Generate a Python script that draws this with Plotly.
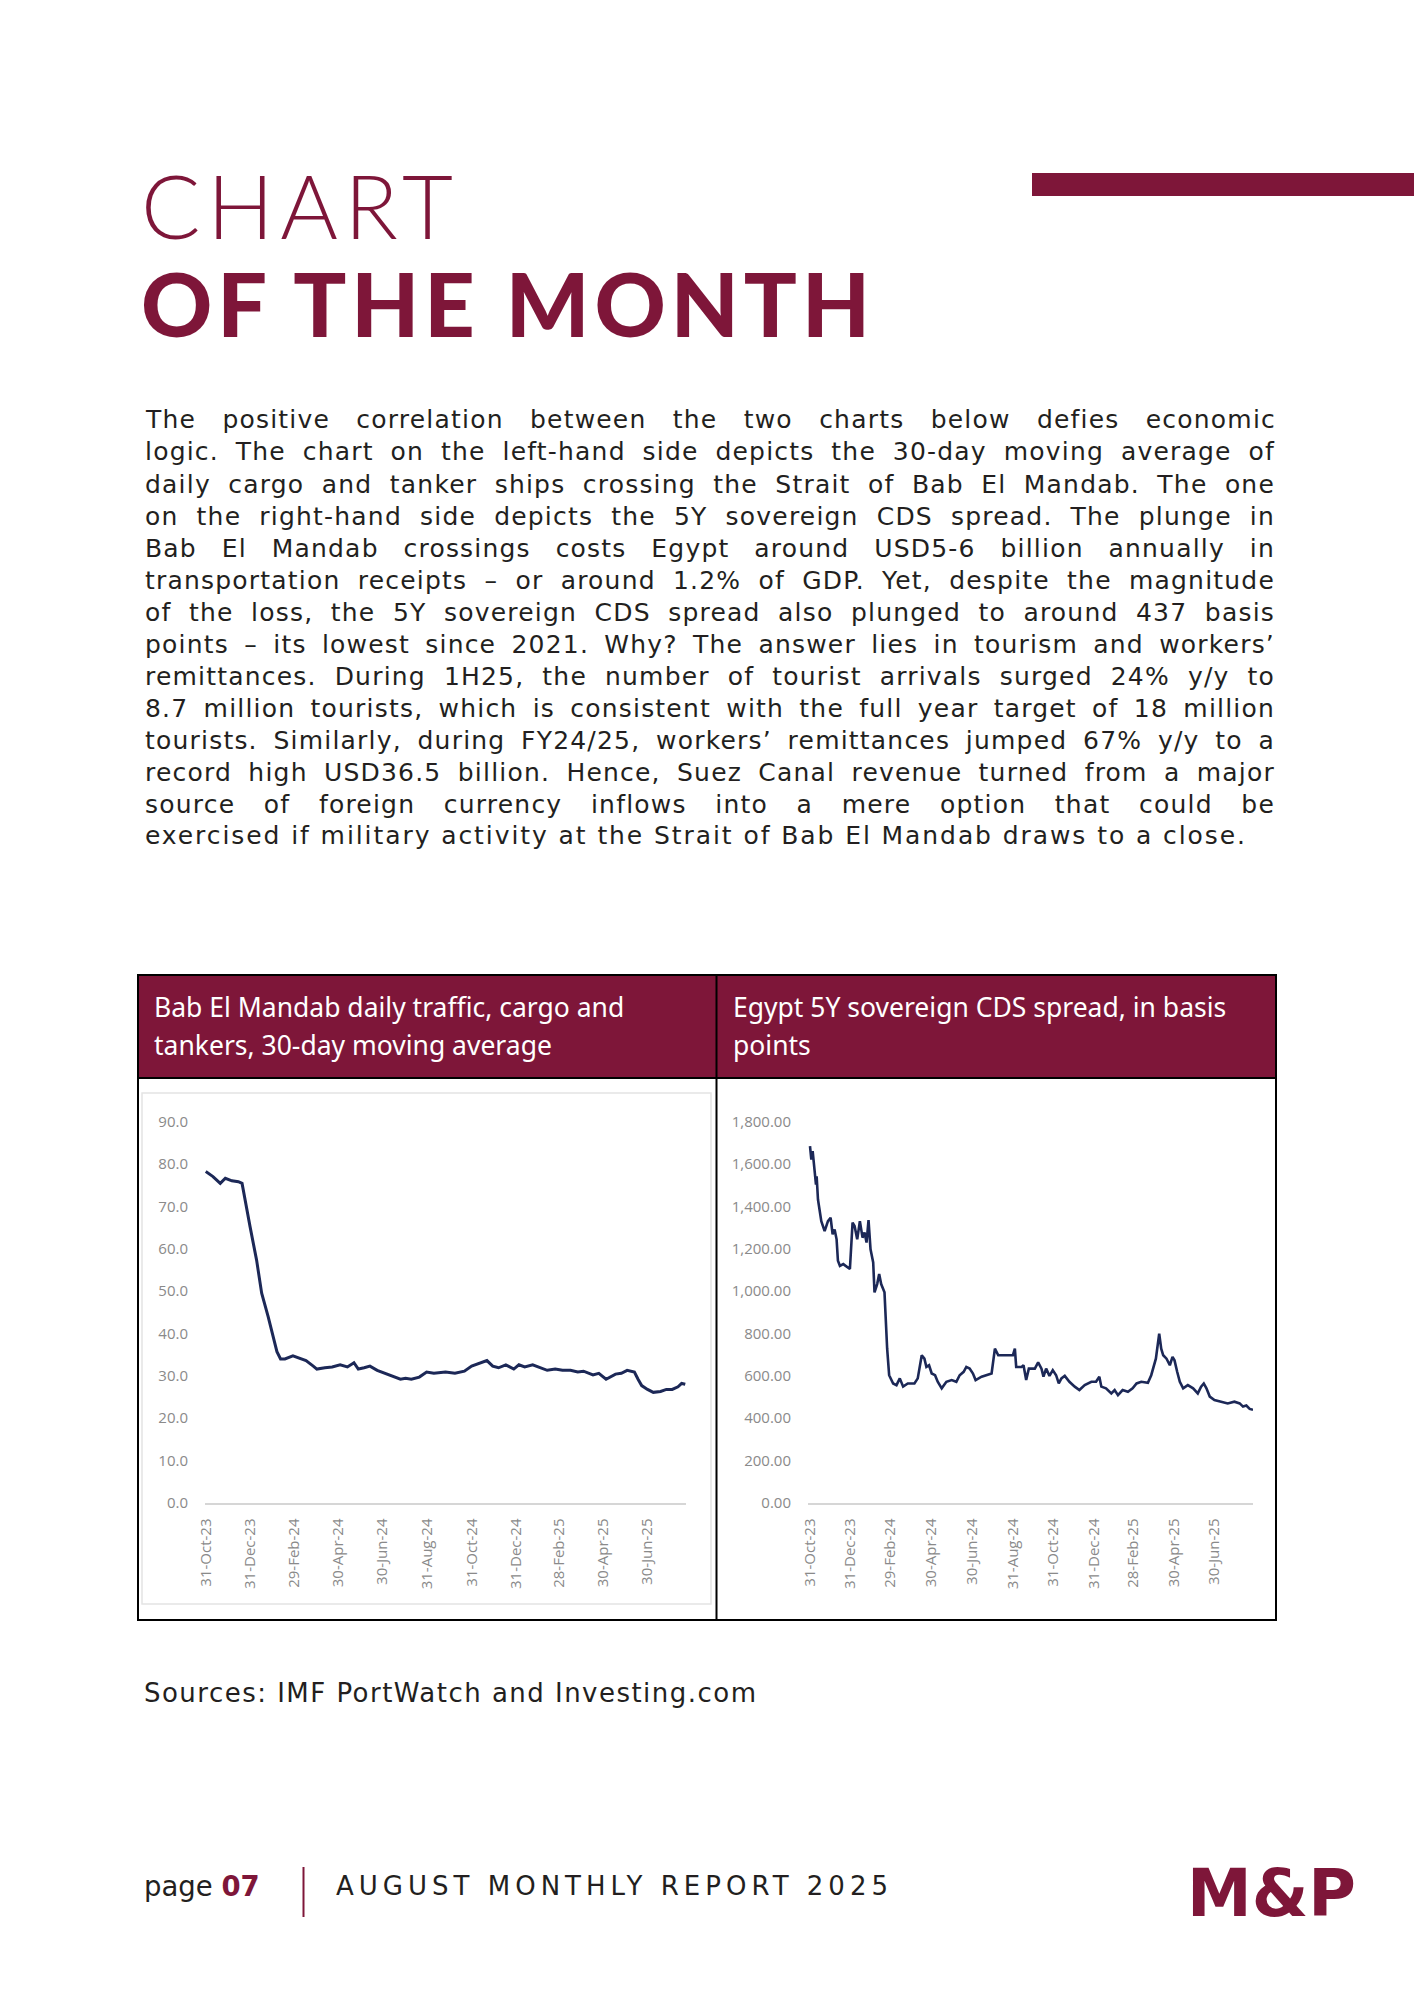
import json
import plotly.graph_objects as go

# ---------------- data ----------------
traffic_dates = [
    "2023-10-31", "2023-11-10", "2023-11-20", "2023-11-27", "2023-12-06", "2023-12-15",
    "2023-12-20", "2023-12-24", "2023-12-31", "2024-01-09", "2024-01-16", "2024-01-25",
    "2024-02-01", "2024-02-06", "2024-02-11", "2024-02-17", "2024-02-28", "2024-03-06",
    "2024-03-17", "2024-03-27", "2024-04-01", "2024-04-12", "2024-04-22", "2024-05-03",
    "2024-05-13", "2024-05-22", "2024-05-28", "2024-06-05", "2024-06-13", "2024-06-23",
    "2024-07-04", "2024-07-14", "2024-07-25", "2024-08-01", "2024-08-09", "2024-08-20",
    "2024-08-30", "2024-09-09", "2024-09-25", "2024-10-08", "2024-10-21", "2024-10-31",
    "2024-11-11", "2024-11-21", "2024-11-29", "2024-12-07", "2024-12-17", "2024-12-28",
    "2025-01-04", "2025-01-12", "2025-01-23", "2025-02-02", "2025-02-12", "2025-02-23",
    "2025-03-05", "2025-03-16", "2025-03-26", "2025-04-03", "2025-04-16", "2025-04-24",
    "2025-05-04", "2025-05-17", "2025-05-25", "2025-06-02", "2025-06-12", "2025-06-17",
    "2025-06-22", "2025-06-30", "2025-07-08", "2025-07-18", "2025-07-26", "2025-08-03",
    "2025-08-11", "2025-08-16", "2025-08-21",
]
traffic_values = [
    78.2, 77.0, 75.4, 76.6, 76.0, 75.8,
    75.4, 71.5, 65.2, 57.3, 49.5, 43.9,
    38.9, 35.7, 34.0, 34.0, 34.7, 34.2,
    33.6, 32.3, 31.6, 31.9, 32.1, 32.6,
    32.1, 33.1, 31.6, 31.9, 32.3, 31.3,
    30.6, 30.0, 29.2, 29.4, 29.2, 29.7,
    30.9, 30.6, 30.9, 30.6, 31.1, 32.3,
    32.9, 33.6, 32.3, 31.9, 32.6, 31.6,
    32.6, 32.1, 32.6, 31.9, 31.3, 31.6,
    31.3, 31.3, 30.9, 31.1, 30.2, 30.6,
    29.2, 30.4, 30.6, 31.3, 30.9, 29.2,
    27.7, 26.8, 26.1, 26.3, 26.8, 26.8,
    27.4, 28.2, 28.0,
]

cds_dates = [
    "2023-10-31", "2023-11-02", "2023-11-04", "2023-11-07", "2023-11-09", "2023-11-10",
    "2023-11-12", "2023-11-17", "2023-11-22", "2023-11-27", "2023-12-01", "2023-12-04",
    "2023-12-07", "2023-12-10", "2023-12-12", "2023-12-15", "2023-12-20", "2023-12-30",
    "2024-01-03", "2024-01-06", "2024-01-10", "2024-01-14", "2024-01-18", "2024-01-21",
    "2024-01-24", "2024-01-27", "2024-01-30", "2024-02-03", "2024-02-05", "2024-02-09",
    "2024-02-12", "2024-02-15", "2024-02-20", "2024-02-24", "2024-02-27", "2024-03-04",
    "2024-03-09", "2024-03-14", "2024-03-19", "2024-03-26", "2024-04-05", "2024-04-10",
    "2024-04-16", "2024-04-20", "2024-04-23", "2024-04-27", "2024-05-01", "2024-05-06",
    "2024-05-10", "2024-05-16", "2024-05-23", "2024-05-31", "2024-06-07", "2024-06-12",
    "2024-06-18", "2024-06-22", "2024-06-27", "2024-07-02", "2024-07-06", "2024-07-15",
    "2024-07-22", "2024-07-30", "2024-08-04", "2024-08-09", "2024-08-19", "2024-08-31",
    "2024-09-03", "2024-09-05", "2024-09-13", "2024-09-16", "2024-09-20", "2024-09-24",
    "2024-10-03", "2024-10-08", "2024-10-13", "2024-10-16", "2024-10-20", "2024-10-25",
    "2024-10-30", "2024-11-04", "2024-11-08", "2024-11-12", "2024-11-17", "2024-11-24",
    "2024-12-02", "2024-12-09", "2024-12-17", "2024-12-27", "2025-01-03", "2025-01-08",
    "2025-01-11", "2025-01-18", "2025-01-26", "2025-01-31", "2025-02-05", "2025-02-12",
    "2025-02-20", "2025-02-27", "2025-03-05", "2025-03-12", "2025-03-22", "2025-03-27",
    "2025-04-03", "2025-04-08", "2025-04-11", "2025-04-14", "2025-04-19", "2025-04-24",
    "2025-04-28", "2025-05-01", "2025-05-05", "2025-05-09", "2025-05-14", "2025-05-21",
    "2025-05-29", "2025-06-05", "2025-06-10", "2025-06-14", "2025-06-18", "2025-06-23",
    "2025-06-30", "2025-07-10", "2025-07-20", "2025-07-30", "2025-08-07", "2025-08-12",
    "2025-08-17", "2025-08-22", "2025-08-27",
]
cds_values = [
    1684, 1620, 1660, 1549, 1502, 1541,
    1432, 1330, 1283, 1330, 1346, 1268,
    1291, 1244, 1143, 1119, 1127, 1104,
    1323, 1307, 1244, 1330, 1252, 1276,
    1229, 1335, 1197, 1135, 994, 1033,
    1080, 1033, 994, 728, 603, 564,
    556, 588, 549, 564, 564, 588,
    697, 681, 642, 650, 611, 603,
    572, 541, 572, 580, 572, 603,
    619, 642, 634, 611, 580, 596,
    603, 611, 728, 697, 697, 697,
    728, 642, 642, 650, 580, 634,
    634, 663, 634, 596, 634, 600,
    627, 603, 564, 588, 600, 572,
    549, 533, 556, 572, 572, 596,
    549, 541, 517, 533, 509, 533,
    525, 541, 564, 572, 567, 603,
    681, 799, 728, 697, 681, 650,
    689, 673, 619, 572, 541, 556,
    541, 517, 549, 564, 541, 502,
    486, 478, 470, 478, 470, 455,
    460, 444, 440,
]

tick_dates = [
    "2023-10-31", "2023-12-31", "2024-02-29", "2024-04-30", "2024-06-30", "2024-08-31",
    "2024-10-31", "2024-12-31", "2025-02-28", "2025-04-30", "2025-06-30",
]
tick_labels = [
    "31-Oct-23", "31-Dec-23", "29-Feb-24", "30-Apr-24", "30-Jun-24", "31-Aug-24",
    "31-Oct-24", "31-Dec-24", "28-Feb-25", "30-Apr-25", "30-Jun-25",
]

body_lines = [
    "The positive correlation between the two charts below defies economic",
    "logic. The chart on the left-hand side depicts the 30-day moving average of",
    "daily cargo and tanker ships crossing the Strait of Bab El Mandab. The one",
    "on the right-hand side depicts the 5Y sovereign CDS spread. The plunge in",
    "Bab El Mandab crossings costs Egypt around USD5-6 billion annually in",
    "transportation receipts – or around 1.2% of GDP. Yet, despite the magnitude",
    "of the loss, the 5Y sovereign CDS spread also plunged to around 437 basis",
    "points – its lowest since 2021. Why? The answer lies in tourism and workers’",
    "remittances. During 1H25, the number of tourist arrivals surged 24% y/y to",
    "8.7 million tourists, which is consistent with the full year target of 18 million",
    "tourists. Similarly, during FY24/25, workers’ remittances jumped 67% y/y to a",
    "record high USD36.5 billion. Hence, Suez Canal revenue turned from a major",
    "source of foreign currency inflows into a mere option that could be",
    "exercised if military activity at the Strait of Bab El Mandab draws to a close.",
]
left_header = ["Bab El Mandab daily traffic, cargo and", "tankers, 30-day moving average"]
right_header = ["Egypt 5Y sovereign CDS spread, in basis", "points"]

# ---------------- styling ----------------
W, H = 1414, 2000
MAROON = "#7E1639"
NAVY = "#1C2857"
GRAY = "#8a8a8a"
TEXT = "#231f20"
BODY_FONT = "DejaVu Sans"


def px(x):
    return x / W


def py(y):
    return 1 - y / H


fig = go.Figure()
fig.add_trace(go.Scatter(x=traffic_dates, y=traffic_values, mode="lines",
                         line=dict(color=NAVY, width=3), xaxis="x", yaxis="y",
                         showlegend=False, hoverinfo="skip"))
fig.add_trace(go.Scatter(x=cds_dates, y=cds_values, mode="lines",
                         line=dict(color=NAVY, width=2.6), xaxis="x2", yaxis="y2",
                         showlegend=False, hoverinfo="skip"))

tickfont = dict(family="Open Sans", size=15, color=GRAY)
xcommon = dict(type="date", tickvals=tick_dates, ticktext=tick_labels, tickangle=-90,
               showgrid=False, zeroline=False, showline=True, linecolor="#d6d6d6",
               linewidth=1.5, ticks="outside", ticklen=8, tickcolor="rgba(0,0,0,0)",
               tickfont=tickfont, fixedrange=True, automargin=False)
ycommon = dict(showgrid=False, zeroline=False, showline=False, ticks="outside",
               ticklen=13, tickcolor="rgba(0,0,0,0)", tickfont=tickfont, fixedrange=True,
               automargin=False)

fig.update_layout(
    width=W, height=H, autosize=False,
    margin=dict(l=0, r=0, t=0, b=0, pad=0, autoexpand=False),
    paper_bgcolor="white", plot_bgcolor="rgba(0,0,0,0)",
    xaxis=dict(domain=[px(205), px(686)], range=["2023-10-30", "2025-08-22"],
               anchor="y", **xcommon),
    yaxis=dict(domain=[py(1503), py(1121.5)], range=[0, 90], dtick=10,
               tickformat=".1f", anchor="x", **ycommon),
    xaxis2=dict(domain=[px(808), px(1253)], range=["2023-10-28", "2025-08-27"],
                anchor="y2", **xcommon),
    yaxis2=dict(domain=[py(1503), py(1121.5)], range=[0, 1800], dtick=200,
                tickformat=",.2f", anchor="x2", **ycommon),
)

shapes = []


def rect(x0, y0, x1, y1, **kw):
    shapes.append(dict(type="rect", xref="paper", yref="paper", x0=px(x0), x1=px(x1),
                       y0=py(y1), y1=py(y0), layer="below", **kw))


def vline(x, y0, y1, color, width):
    shapes.append(dict(type="line", xref="paper", yref="paper", x0=px(x), x1=px(x),
                       y0=py(y0), y1=py(y1), line=dict(color=color, width=width),
                       layer="above"))


rect(1032, 173, 1414, 196, fillcolor=MAROON, line=dict(width=0))
rect(138, 975, 1276, 1078, fillcolor=MAROON, line=dict(color="black", width=2))
rect(142, 1093, 711, 1604, fillcolor="rgba(0,0,0,0)", line=dict(color="#e4e4e4", width=1.5))
rect(138, 975, 1276, 1620, fillcolor="rgba(0,0,0,0)", line=dict(color="black", width=2))
vline(716.5, 975, 1620, "black", 2)
vline(303.5, 1867, 1917, MAROON, 2)
fig.update_layout(shapes=shapes)

annotations = []
specs = {}


def note(text, x, y, size, family=BODY_FONT, color=TEXT, weight=None, spec=None,
         xanchor="left"):
    f = dict(family=family, size=size, color=color)
    if weight is not None:
        f["weight"] = weight
    annotations.append(dict(text=text, x=px(x), y=py(y), xref="paper", yref="paper",
                            xanchor=xanchor, yanchor="middle", align=xanchor,
                            showarrow=False, font=f))
    if spec is not None:
        specs[str(len(annotations) - 1)] = spec


note("CHART", 139, 205, 88, family="Lato", color=MAROON, weight=300,
     spec=dict(mode="track", w=312))
note("OF THE MONTH", 139, 303, 88, family="Lato", color=MAROON, weight=900,
     spec=dict(mode="track", w=729))

for i, line in enumerate(body_lines):
    yc = 420.0 + 32.0 * i
    if i < len(body_lines) - 1:
        note(line, 143, yc, 25, spec=dict(mode="justify", w=1130, ls=1.2))
    else:
        note(line, 143, yc, 25, spec=dict(mode="track", w=1100))

note(left_header[0], 152, 1007, 26.5, family="Noto Sans", color="white")
note(left_header[1], 152, 1045, 26.5, family="Noto Sans", color="white")
note(right_header[0], 731, 1007, 26.5, family="Noto Sans", color="white")
note(right_header[1], 731, 1045, 26.5, family="Noto Sans", color="white")

note("Sources: IMF PortWatch and Investing.com", 142, 1693, 26,
     spec=dict(mode="track", w=612))

note("page <span style='color:%s'><b>07</b></span>" % MAROON, 142, 1886, 27.5)
note("AUGUST MONTHLY REPORT 2025", 334, 1886, 26, spec=dict(mode="track", w=552))
note("M&P", 1358, 1893, 65, family="DejaVu Sans", color=MAROON, weight=700,
     xanchor="right")

fig.update_layout(annotations=annotations)

js = """
document.documentElement.style.margin = '0';
document.body.style.margin = '0';
var gd = document.getElementById('{plot_id}');
var specs = SPECS;
gd.querySelectorAll('g.annotation').forEach(function (g) {
  var sp = specs[g.getAttribute('data-index')];
  if (!sp) return;
  var t = g.querySelector('text.annotation-text');
  if (!t) return;
  var txt = t.textContent;
  var n = txt.length;
  var s = (txt.match(/ /g) || []).length;
  if (sp.mode === 'justify') {
    t.style.letterSpacing = sp.ls + 'px';
    var w1 = t.getComputedTextLength();
    var ws = s ? (sp.w - w1) / s : 0;
    t.style.wordSpacing = ws + 'px';
  } else if (sp.mode === 'track') {
    var w0 = t.getComputedTextLength();
    t.style.letterSpacing = ((sp.w - w0) / (n - 1)) + 'px';
  }
});
""".replace("SPECS", json.dumps(specs))

fig.write_html("out.html", config={"displayModeBar": False, "staticPlot": True},
               post_script=js)
